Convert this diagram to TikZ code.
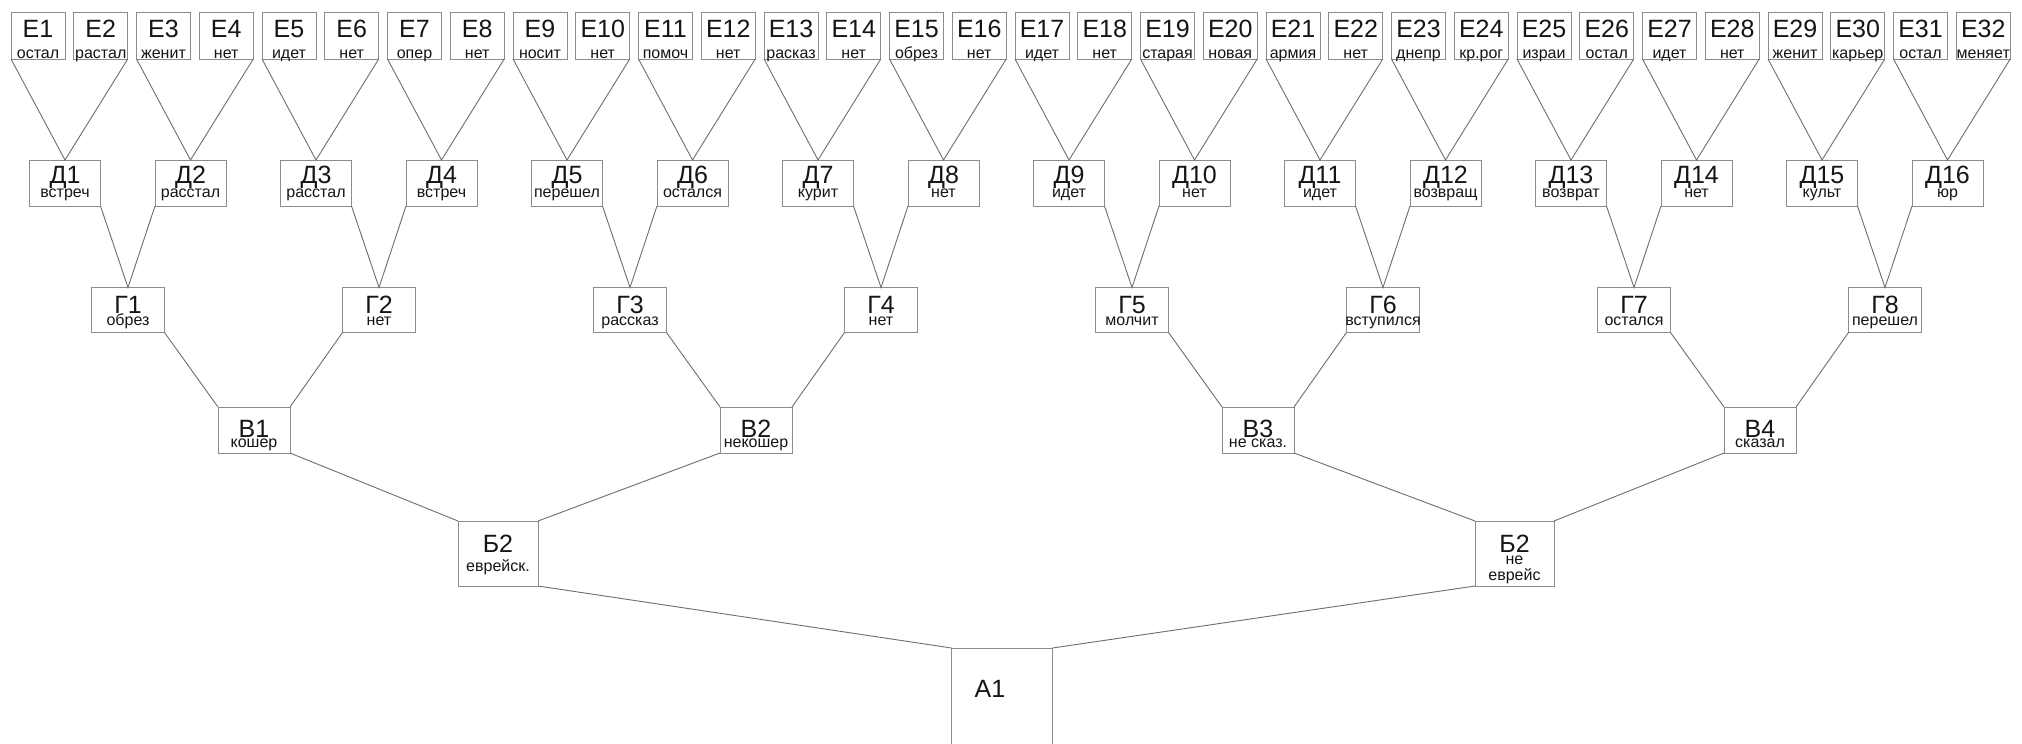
\documentclass[tikz,border=0pt]{standalone}
\usepackage{fontspec}
\setmainfont{Liberation Sans}
\definecolor{boxgray}{HTML}{8C8C8C}
\definecolor{linegray}{HTML}{6E6E6E}
\definecolor{ink}{HTML}{151515}
\begin{document}
\begin{tikzpicture}[x=1pt,y=-1pt,
  box/.style={draw=boxgray, line width=1pt, rectangle, inner sep=0pt, outer sep=0pt},
  link/.style={draw=linegray, line width=0.9pt},
  big/.style={font=\fontsize{25}{25}\selectfont, text=ink, anchor=base, inner sep=0pt},
  small/.style={font=\fontsize{16}{16}\selectfont, text=ink, anchor=base, inner sep=0pt}]
\useasboundingbox (0,0) rectangle (2022,744);
\clip (0,0) rectangle (2022,744);
\fill[white] (0,0) rectangle (2022,744);

% level E
\foreach \s [count=\i] in {остал,растал,женит,нет,идет,нет,опер,нет,носит,нет,помоч,нет,расказ,нет,обрез,нет,идет,нет,старая,новая,армия,нет,днепр,кр.рог,израи,остал,идет,нет,женит,карьер,остал,меняет}{
  \pgfmathsetmacro\cx{38+62.75*(\i-1)}
  \node[box, minimum width=54pt, minimum height=47pt] (e\i) at (\cx,35.5) {};
  \node[big] (e\i m) at (\cx,37) {Е\i};
  \node[small] (e\i s) at (\cx,58) {\s};
}

% level D
\foreach \s [count=\i] in {встреч,расстал,расстал,встреч,перешел,остался,курит,нет,идет,нет,идет,возвращ,возврат,нет,культ,юр}{
  \pgfmathsetmacro\cx{65+125.5*(\i-1)}
  \node[box, minimum width=71pt, minimum height=46pt] (d\i) at (\cx,183) {};
  \node[big] (d\i m) at (\cx,183) {Д\i};
  \node[small] (d\i s) at (\cx,197) {\s};
}

% level G
\foreach \s [count=\i] in {обрез,нет,рассказ,нет,молчит,вступился,остался,перешел}{
  \pgfmathsetmacro\cx{128+251*(\i-1)}
  \node[box, minimum width=73pt, minimum height=45pt] (g\i) at (\cx,310) {};
  \node[big] (g\i m) at (\cx,313) {Г\i};
  \node[small] (g\i s) at (\cx,325) {\s};
}

% level V
\foreach \s [count=\i] in {кошер,некошер,не сказ.,сказал}{
  \pgfmathsetmacro\cx{254+502*(\i-1)}
  \node[box, minimum width=72pt, minimum height=46pt] (v\i) at (\cx,430) {};
  \node[big] (v\i m) at (\cx,437) {В\i};
  \node[small] (v\i s) at (\cx,447) {\s};
}

% level B
\node[box, minimum width=80pt, minimum height=65pt] (b1) at (498,553.5) {};
\node[big] (b1m) at (498,552) {Б2};
\node[small] (b1s) at (498,571) {еврейск.};
\node[box, minimum width=79pt, minimum height=65pt] (b2) at (1514.5,553.5) {};
\node[big] (b2m) at (1514.5,552) {Б2};
\node[small] (b2s) at (1514.5,564) {не};
\node[small] (b2t) at (1514.5,580) {еврейс};

% level A
\node[box, minimum width=101pt, minimum height=120pt] (a1) at (1002,708) {};
\node[big] (a1m) at (990,697) {А1};

% connectors
\foreach \k in {1,...,16}{
  \pgfmathtruncatemacro\a{2*\k-1}
  \pgfmathtruncatemacro\b{2*\k}
  \draw[link] (e\a.south west) -- (d\k.north) -- (e\b.south east);
}
\foreach \k in {1,...,8}{
  \pgfmathtruncatemacro\a{2*\k-1}
  \pgfmathtruncatemacro\b{2*\k}
  \draw[link] (d\a.south east) -- (g\k.north) -- (d\b.south west);
}
\foreach \k in {1,...,4}{
  \pgfmathtruncatemacro\a{2*\k-1}
  \pgfmathtruncatemacro\b{2*\k}
  \draw[link] (g\a.south east) -- (v\k.north west);
  \draw[link] (g\b.south west) -- (v\k.north east);
}
\draw[link] (v1.south east) -- (b1.north west);
\draw[link] (v2.south west) -- (b1.north east);
\draw[link] (v3.south east) -- (b2.north west);
\draw[link] (v4.south west) -- (b2.north east);
\draw[link] (b1.south east) -- (a1.north west);
\draw[link] (b2.south west) -- (a1.north east);
\end{tikzpicture}
\end{document}
